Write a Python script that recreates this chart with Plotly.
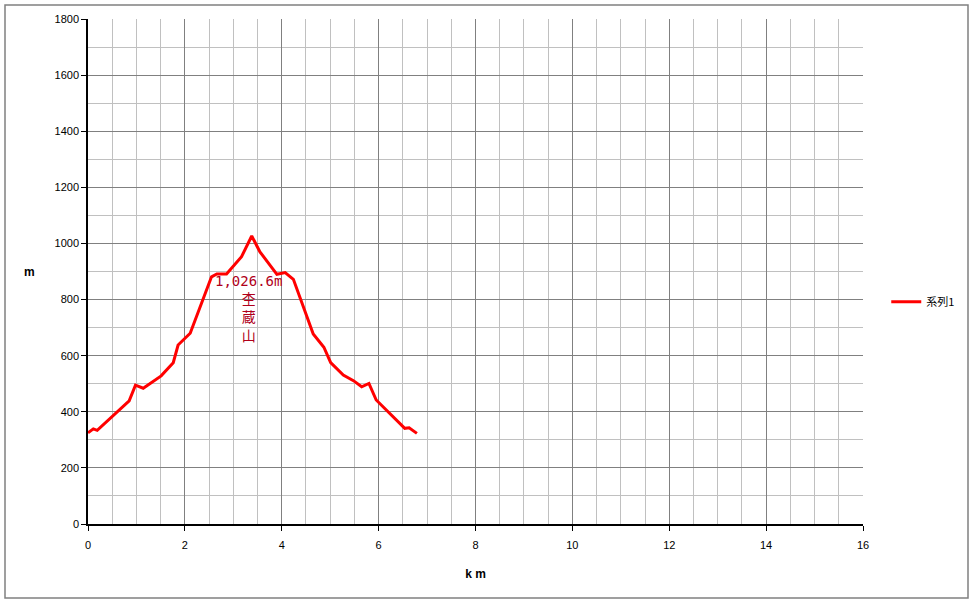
import plotly.graph_objects as go

# distance (km) and elevation (m)
dist_km = [0.0, 0.11, 0.19, 0.85, 0.98, 1.14, 1.51, 1.76, 1.86, 2.11, 2.55, 2.66, 2.86,
           3.17, 3.38, 3.55, 3.90, 4.07, 4.24, 4.38, 4.65, 4.87, 5.01, 5.27, 5.48,
           5.65, 5.80, 5.95, 6.54, 6.63, 6.79]
elev_m = [325, 339, 334, 439, 495, 484, 528, 575, 638, 680, 881, 891, 891,
          953, 1026.6, 970, 890, 896, 872, 804, 677, 630, 575, 531, 511,
          489, 501, 442, 341, 343, 323]
series_name = "系列1"
peak_label = "1,026.6m<br>杢<br>蔵<br>山"
x_title = "k m"
y_title = "m"

fig = go.Figure()
fig.add_trace(go.Scatter(x=dist_km, y=elev_m, mode="lines", name=series_name,
                         line=dict(color="#FF0000", width=3)))

peak_i = elev_m.index(max(elev_m))
fig.add_annotation(x=dist_km[peak_i], y=elev_m[peak_i], text=peak_label, showarrow=False,
                   xanchor="center", yanchor="top", yshift=-35, xshift=-3,
                   font=dict(family="DejaVu Sans Mono, Noto Sans CJK JP", size=14, color="#B0001A"))

# horizontal y-axis title
fig.add_annotation(xref="paper", yref="paper", x=-58 / 775, y=0.5, text="<b>" + y_title + "</b>",
                   showarrow=False, xanchor="center", yanchor="middle",
                   font=dict(family="Liberation Sans, Arial", size=12, color="#000"))

tick_font = dict(family="Liberation Sans, Arial", size=11, color="#000000")

fig.update_xaxes(range=[0, 16], dtick=2, tick0=0, showgrid=True, gridcolor="#808080", gridwidth=1,
                 minor=dict(dtick=0.5, showgrid=True, gridcolor="#C0C0C0", gridwidth=1),
                 showline=True, linecolor="#000000", linewidth=1.5, ticks="outside", ticklen=5,
                 tickcolor="#000000", zeroline=False, tickfont=tick_font, ticklabelstandoff=5,
                 title=dict(text="<b>" + x_title + "</b>",
                            font=dict(family="Liberation Sans, Arial", size=12, color="#000"),
                            standoff=20))
fig.update_yaxes(range=[0, 1800], dtick=200, tick0=0, showgrid=True, gridcolor="#808080", gridwidth=1,
                 minor=dict(dtick=100, showgrid=True, gridcolor="#C0C0C0", gridwidth=1),
                 showline=True, linecolor="#000000", linewidth=1.5, ticks="outside", ticklen=5,
                 tickcolor="#000000", zeroline=False, tickfont=tick_font)

fig.update_layout(
    width=973, height=603,
    margin=dict(l=88, r=110, t=19, b=79),
    plot_bgcolor="#FFFFFF", paper_bgcolor="#FFFFFF",
    showlegend=True,
    legend=dict(x=1.03, y=0.44, xanchor="left", yanchor="middle",
                font=dict(family="Noto Sans CJK JP", size=11, color="#000"),
                bgcolor="rgba(0,0,0,0)"),
    shapes=[dict(type="rect", xref="paper", yref="paper",
                 x0=-83 / 775, x1=1 + 105 / 775, y0=-74 / 505, y1=1 + 14 / 505,
                 line=dict(color="#808080", width=1.5))],
)

fig.write_html("out.html", config={"displayModeBar": False},
               post_script="document.body.style.margin='0';document.body.style.overflow='hidden';")
